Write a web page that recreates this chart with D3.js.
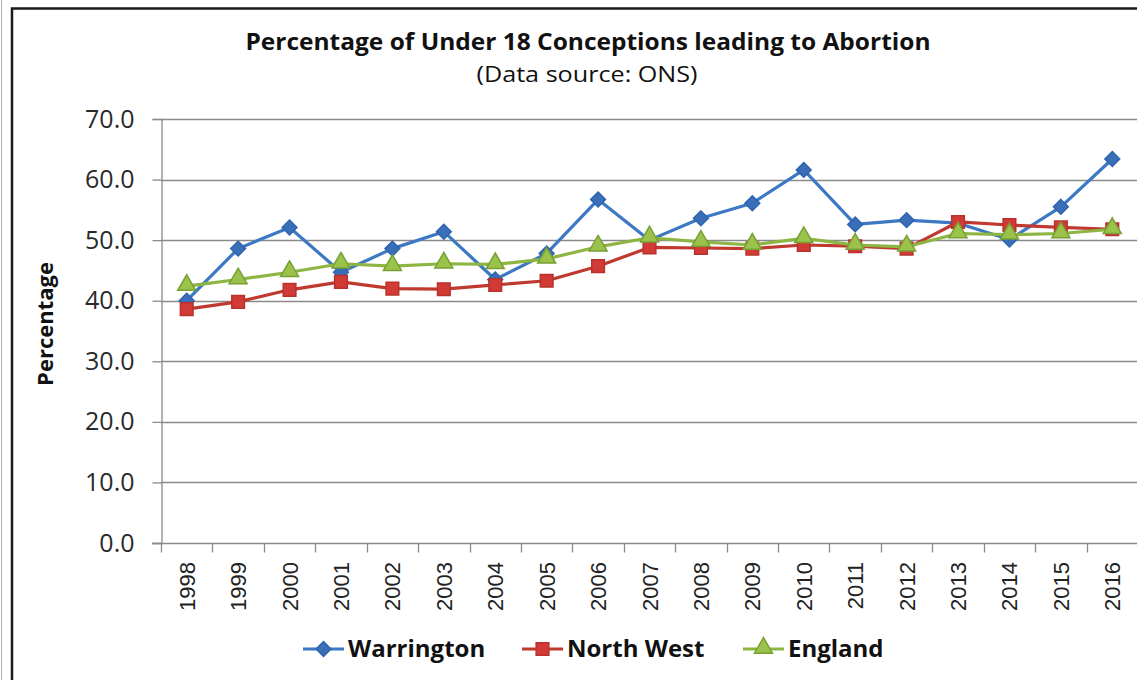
<!DOCTYPE html>
<html>
<head>
<meta charset="utf-8">
<script src="https://cdn.jsdelivr.net/npm/d3@7"></script>
<style>
  body { margin: 0; background: #fff; }
  svg { display: block; }
</style>
</head>
<body>
<div id="chart"></div>
<script>
// Chart data
const years = ['1998', '1999', '2000', '2001', '2002', '2003', '2004', '2005', '2006', '2007',
  '2008', '2009', '2010', '2011', '2012', '2013', '2014', '2015', '2016'];
const warrington = [40.0, 48.6, 52.1, 44.7, 48.6, 51.4, 43.5, 47.8, 56.7, 50.0,
  53.6, 56.1, 61.6, 52.6, 53.3, 52.8, 50.1, 55.5, 63.4];
const northWest = [38.6, 39.8, 41.8, 43.1, 42.0, 41.9, 42.6, 43.3, 45.7, 48.8,
  48.7, 48.6, 49.2, 49.0, 48.6, 53.0, 52.5, 52.1, 51.8];
const england = [42.4, 43.5, 44.7, 46.1, 45.7, 46.1, 46.0, 46.9, 48.9, 50.4,
  49.7, 49.2, 50.3, 49.2, 48.9, 51.1, 50.9, 51.1, 51.8];
const yTicks = [0, 10, 20, 30, 40, 50, 60, 70];

const series = [
  { name: 'Warrington', values: warrington, line: '#3c78c3', fill: '#3a6fb8', stroke: '#2f64b0', marker: 'diamond' },
  { name: 'North West', values: northWest, line: '#c0392f', fill: '#d23a35', stroke: '#b8322d', marker: 'square' },
  { name: 'England', values: england, line: '#8db542', fill: '#9bc24a', stroke: '#77a034', marker: 'triangle' }
];

const width = 1137;
const height = 680;
const margin = { top: 119, right: -1, bottom: 137, left: 161 };

const svg = d3.select('#chart')
  .append('svg')
  .attr('width', width)
  .attr('height', height);

// Outer frame of the original image
svg.append('line')
  .attr('x1', 1.5).attr('x2', 1.5).attr('y1', 0).attr('y2', height)
  .attr('stroke', '#b0b0b0').attr('stroke-width', 1);
svg.append('path')
  .attr('d', `M12,${height} L12,8.5 L${width},8.5`)
  .attr('fill', 'none')
  .attr('stroke', '#1a1a1a')
  .attr('stroke-width', 2.5);

// Scales
const x = d3.scaleBand()
  .domain(years)
  .range([margin.left, width - margin.right]);

const y = d3.scaleLinear()
  .domain([0, 70])
  .range([height - margin.bottom, margin.top]);

// Gridlines
svg.append('g')
  .selectAll('line')
  .data(yTicks.filter(d => d > 0))
  .join('line')
  .attr('x1', margin.left)
  .attr('x2', width)
  .attr('y1', d => Math.round(y(d)) + 0.5)
  .attr('y2', d => Math.round(y(d)) + 0.5)
  .attr('stroke', '#8a8a8a')
  .attr('stroke-width', 1.3);

// Y axis
const yAxis = svg.append('g')
  .attr('transform', `translate(${margin.left + 0.5},0)`)
  .call(d3.axisLeft(y).tickValues(yTicks).tickFormat(d3.format('.1f')).tickSize(9).tickPadding(18));
yAxis.select('.domain').attr('stroke', '#8a8a8a').attr('stroke-width', 1.3);
yAxis.selectAll('.tick line').attr('stroke', '#8a8a8a').attr('stroke-width', 1.3);
yAxis.selectAll('.tick text')
  .attr('fill', '#2a2a2a')
  .style('font-family', 'Open Sans, sans-serif')
  .style('font-size', '25px');

// X axis: ticks sit on the category boundaries
const xAxisY = Math.round(y(0)) + 0.5;
svg.append('line')
  .attr('x1', margin.left - 9).attr('x2', width)
  .attr('y1', xAxisY).attr('y2', xAxisY)
  .attr('stroke', '#8a8a8a').attr('stroke-width', 1.3);
svg.append('g')
  .selectAll('line')
  .data(years)
  .join('line')
  .attr('x1', d => Math.round(x(d)) + 0.5)
  .attr('x2', d => Math.round(x(d)) + 0.5)
  .attr('y1', xAxisY)
  .attr('y2', xAxisY + 9)
  .attr('stroke', '#8a8a8a')
  .attr('stroke-width', 1.3);

svg.append('g')
  .selectAll('text')
  .data(years)
  .join('text')
  .attr('transform', d => `translate(${x(d) + x.bandwidth() / 2 + 8},562) rotate(-90)`)
  .attr('text-anchor', 'end')
  .attr('fill', '#222')
  .style('font-family', 'Liberation Sans, Arial, sans-serif')
  .style('font-size', '22px')
  .text(d => d);

// Axis title
svg.append('text')
  .attr('transform', 'translate(53,324) rotate(-90)')
  .attr('text-anchor', 'middle')
  .attr('fill', '#111')
  .style('font-family', 'Open Sans, sans-serif')
  .style('font-weight', 'bold')
  .style('font-size', '22px')
  .text('Percentage');

// Titles
svg.append('text')
  .attr('x', 588).attr('y', 50)
  .attr('text-anchor', 'middle')
  .attr('textLength', 685)
  .attr('lengthAdjust', 'spacingAndGlyphs')
  .attr('fill', '#111')
  .style('font-family', 'Open Sans, sans-serif')
  .style('font-weight', 'bold')
  .style('font-size', '23px')
  .text('Percentage of Under 18 Conceptions leading to Abortion');

svg.append('text')
  .attr('x', 587).attr('y', 82)
  .attr('text-anchor', 'middle')
  .attr('textLength', 221)
  .attr('lengthAdjust', 'spacingAndGlyphs')
  .attr('fill', '#111')
  .style('font-family', 'Open Sans, sans-serif')
  .style('font-size', '22px')
  .text('(Data source:  ONS)');

// Marker shapes
const markerPath = {
  diamond: d3.symbol().type(d3.symbolDiamond2).size(140),
  square: d3.symbol().type(d3.symbolSquare).size(160),
  triangle: d3.symbol().type(d3.symbolTriangle).size(140)
};

const line = d3.line()
  .x((d, i) => x(years[i]) + x.bandwidth() / 2)
  .y(d => y(d));

series.forEach(s => {
  const g = svg.append('g');
  g.append('path')
    .datum(s.values)
    .attr('fill', 'none')
    .attr('stroke', s.line)
    .attr('stroke-width', 3.2)
    .attr('stroke-linejoin', 'round')
    .attr('d', line);
  g.selectAll('path.marker')
    .data(s.values)
    .join('path')
    .attr('class', 'marker')
    .attr('transform', (d, i) => `translate(${x(years[i]) + x.bandwidth() / 2},${y(d) + (s.marker === 'triangle' ? -1 : 0)})`)
    .attr('d', markerPath[s.marker]())
    .attr('fill', s.fill)
    .attr('stroke', s.stroke)
    .attr('stroke-width', 1.5);
});

// Legend
const legendPos = [303, 522, 743];
const legend = svg.append('g');
series.forEach((s, i) => {
  const lx = legendPos[i];
  const item = legend.append('g').attr('transform', `translate(${lx},649)`);
  item.append('line')
    .attr('x1', 0).attr('x2', 41)
    .attr('stroke', s.line)
    .attr('stroke-width', 3);
  item.append('path')
    .attr('transform', `translate(20.5,${s.marker === 'triangle' ? -1 : 0})`)
    .attr('d', markerPath[s.marker]())
    .attr('fill', s.fill)
    .attr('stroke', s.stroke)
    .attr('stroke-width', 1.5);
  item.append('text')
    .attr('x', 45)
    .attr('y', 8)
    .attr('fill', '#111')
    .style('font-family', 'Open Sans, sans-serif')
    .style('font-weight', 'bold')
    .style('font-size', '24px')
    .text(s.name);
});
</script>
</body>
</html>
